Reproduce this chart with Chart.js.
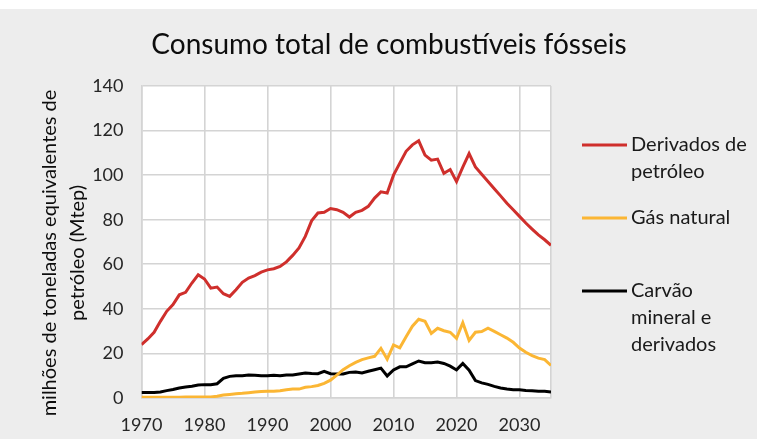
<!DOCTYPE html>
<html>
<head>
<meta charset="utf-8">
<script src="https://cdn.jsdelivr.net/npm/chart.js@4.4.1/dist/chart.umd.min.js"></script>
<style>
  html, body { margin: 0; padding: 0; background: #ededed; }
  #wrap { width: 757px; height: 439px; position: relative; }
</style>
</head>
<body>
<div id="wrap"><canvas id="c" width="757" height="439"></canvas></div>
<script>
const chartTitle = 'Consumo total de combustíveis fósseis';
const yAxisTitle = ['milhões de toneladas equivalentes de', 'petróleo (Mtep)'];
const years = [];
for (let y = 1970; y <= 2035; y++) years.push(y);
const xTickLabels = ['1970', '1980', '1990', '2000', '2010', '2020', '2030'];
const yTickLabels = ['0', '20', '40', '60', '80', '100', '120', '140'];
const seriesNames = ['Derivados de petróleo', 'Gás natural', 'Carvão mineral e derivados'];
const legendLines = [['Derivados de', 'petróleo'], ['Gás natural'], ['Carvão', 'mineral e', 'derivados']];

const petroleo = [
  24, 26.5, 29.5, 34.4, 38.9, 41.9, 46.3, 47.4, 51.6, 55.3,
  53.4, 49.3, 49.8, 46.8, 45.6, 48.6, 51.9, 53.8, 54.9, 56.5,
  57.5, 58, 59, 61.1, 64, 67.3, 72.5, 79.5, 83, 83.3,
  85, 84.5, 83.3, 81.2, 83.3, 84.2, 86, 89.7, 92.5, 92,
  100, 105.4, 110.7, 113.6, 115.4, 109, 106.7, 107.2, 100.8, 102.5,
  97.1, 103.6, 109.7, 103.7, 100.4, 97.2, 93.9, 90.7, 87.4, 84.5,
  81.5, 78.5, 75.8, 73.2, 71, 68.5
];
const gasNatural = [
  0.3, 0.3, 0.3, 0.3, 0.3, 0.3, 0.3, 0.4, 0.4, 0.5,
  0.5, 0.5, 0.8, 1.3, 1.6, 1.9, 2.1, 2.4, 2.7, 2.9,
  3, 3, 3.3, 3.7, 4, 4, 4.8, 5.1, 5.6, 6.6,
  8, 10.3, 12.7, 14.5, 16, 17.2, 18, 18.7, 22.3, 17.4,
  23.8, 22.5, 27.5, 32.2, 35.3, 34.4, 29, 31.3, 30.2, 29.5,
  26.8, 33.8, 25.8, 29.5, 29.8, 31.3, 29.9, 28.4, 26.9, 25,
  22.4, 20.5, 19, 17.9, 17.2, 14.6
];
const carvao = [
  2.5, 2.5, 2.5, 2.7, 3.3, 3.8, 4.5, 4.9, 5.3, 5.8,
  6, 6, 6.4, 8.8, 9.7, 10, 10, 10.3, 10.2, 10,
  10, 10.2, 10, 10.3, 10.3, 10.8, 11.2, 11, 10.9, 12,
  10.9, 10.8, 10.8, 11.5, 11.7, 11.2, 12, 12.7, 13.4, 9.9,
  12.6, 14, 14, 15.3, 16.6, 15.8, 15.8, 16.1, 15.5, 14.3,
  12.6, 15.5, 12.5, 7.8, 6.8, 6.1, 5.2, 4.5, 4, 3.7,
  3.7, 3.4, 3.3, 3, 3, 2.7
];
const seriesValues = [petroleo, gasNatural, carvao];
const seriesColors = ['#cf2f2c', '#fbb634', '#000000'];

const FONT = 'Lato, "Open Sans", "DejaVu Sans", sans-serif';

const decorPlugin = {
  id: 'decor',
  beforeDraw(chart) {
    const ctx = chart.ctx;
    const a = chart.chartArea;
    ctx.save();
    ctx.fillStyle = '#ededed';
    ctx.fillRect(0, 0, chart.width, chart.height);
    ctx.fillStyle = '#ffffff';
    ctx.fillRect(0, 0, chart.width, 9);
    ctx.fillRect(a.left, a.top, a.right - a.left, a.bottom - a.top);
    ctx.restore();
  },
  afterDraw(chart) {
    const ctx = chart.ctx;
    ctx.save();
    // Title
    ctx.fillStyle = '#0d0d0d';
    ctx.font = '28px ' + FONT;
    ctx.textAlign = 'center';
    ctx.textBaseline = 'middle';
    ctx.fillText(chartTitle, 389, 45);
    // Y axis title (rotated)
    ctx.font = '20px ' + FONT;
    ctx.fillStyle = '#0d0d0d';
    const cy = 253;
    const xs = [50, 78];
    yAxisTitle.forEach((t, i) => {
      ctx.save();
      ctx.translate(xs[i], cy);
      ctx.rotate(-Math.PI / 2);
      ctx.textAlign = 'center';
      ctx.textBaseline = 'middle';
      ctx.fillText(t, 0, 0);
      ctx.restore();
    });
    // Legend
    const legendY = [145, 218, 291];
    const lineH = 27;
    ctx.font = '20px ' + FONT;
    ctx.textAlign = 'left';
    ctx.textBaseline = 'middle';
    chart.data.datasets.forEach((ds, i) => {
      const y = legendY[i];
      ctx.strokeStyle = ds.borderColor;
      ctx.lineWidth = 3;
      ctx.beginPath();
      ctx.moveTo(582, y);
      ctx.lineTo(627, y);
      ctx.stroke();
      ctx.fillStyle = '#1a1a1a';
      legendLines[i].forEach((t, j) => ctx.fillText(t, 631, y + j * lineH));
    });
    ctx.restore();
  }
};

const datasets = seriesNames.map((name, i) => ({
  label: name,
  data: years.map((yr, k) => ({ x: yr, y: seriesValues[i][k] })),
  borderColor: seriesColors[i],
  backgroundColor: seriesColors[i],
  borderWidth: 3,
  pointRadius: 0,
  tension: 0,
  fill: false
}));

new Chart(document.getElementById('c'), {
  type: 'line',
  data: { datasets },
  plugins: [decorPlugin],
  options: {
    responsive: false,
    animation: false,
    layout: { padding: { left: 0, right: 206, top: 86, bottom: 0 } },
    plugins: { legend: { display: false }, title: { display: false }, tooltip: { enabled: false } },
    scales: {
      x: {
        type: 'linear',
        min: 1970,
        max: 2035,
        afterFit(scale) { scale.height = 41; },
        afterBuildTicks(scale) {
          scale.ticks = years.filter(y => (y - 1970) % 10 === 0 || y === 2035).map(v => ({ value: v }));
        },
        ticks: {
          autoSkip: false,
          maxRotation: 0,
          padding: 16,
          color: '#262626',
          font: { family: FONT, size: 18 },
          callback(v) { const s = String(v); return xTickLabels.includes(s) ? s : ''; }
        },
        grid: { color: '#d4d4d4', lineWidth: 1.6, drawTicks: false },
        border: { color: '#d4d4d4', width: 1.6 }
      },
      y: {
        min: 0,
        max: 140,
        afterFit(scale) { scale.width = 141.5; },
        ticks: {
          stepSize: 20,
          padding: 18,
          color: '#262626',
          font: { family: FONT, size: 18 },
          callback(v) { const s = String(v); return yTickLabels.includes(s) ? s : ''; }
        },
        grid: { color: '#d4d4d4', lineWidth: 1.6, drawTicks: false },
        border: { color: '#d4d4d4', width: 1.6 }
      }
    }
  }
});
</script>
</body>
</html>
